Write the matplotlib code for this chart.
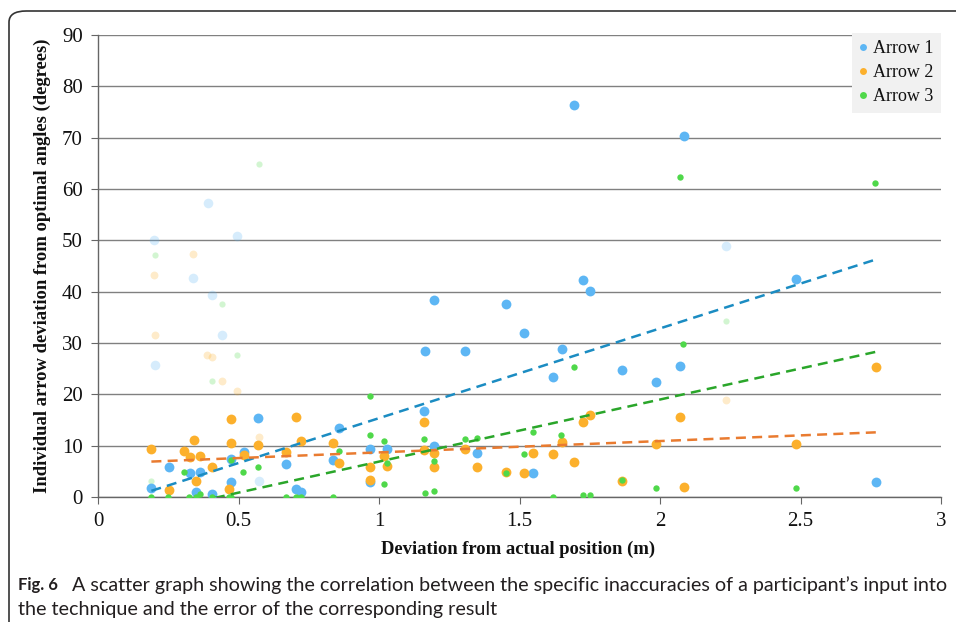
import numpy as np
import matplotlib
matplotlib.use("agg")
import matplotlib.pyplot as plt
from matplotlib.patches import FancyBboxPatch
from matplotlib.lines import Line2D

# Arrow 1 (blue)
a1_x = [1.693, 2.084, 2.483, 1.726, 1.751, 1.197, 1.452, 1.515, 1.163, 1.306,
        1.619, 1.650, 1.863, 1.985, 2.072, 2.769, 1.160, 1.197, 1.350, 1.549,
        0.967, 1.027, 0.967, 0.857, 0.835, 0.568, 0.519, 0.473, 0.669, 0.251,
        0.327, 0.363, 0.190, 0.347, 0.404, 0.473, 0.704, 0.722]
a1_y = [76.4, 70.4, 42.4, 42.3, 40.1, 38.3, 37.6, 31.9, 28.5, 28.5,
        23.4, 28.9, 24.8, 22.4, 25.5, 2.9, 16.7, 9.9, 8.5, 4.6,
        9.3, 9.3, 3.0, 13.4, 7.2, 15.3, 8.7, 7.4, 6.4, 5.8,
        4.6, 4.8, 1.7, 0.9, 0.5, 2.9, 1.5, 1.0]

# Arrow 2 (orange)
a2_x = [2.769, 2.483, 2.072, 2.084, 1.985, 1.863, 1.751, 1.726, 1.650, 1.619,
        1.694, 1.549, 1.515, 1.452, 1.350, 1.306, 1.160, 1.160, 1.197, 1.197,
        1.027, 1.018, 0.967, 0.967, 0.857, 0.835, 0.704, 0.722, 0.669, 0.568,
        0.519, 0.473, 0.473, 0.465, 0.404, 0.363, 0.341, 0.327, 0.307, 0.347,
        0.251, 0.190]
a2_y = [25.3, 10.4, 15.5, 1.9, 10.4, 3.1, 15.9, 14.6, 10.8, 8.3,
        6.9, 8.5, 4.7, 4.8, 5.9, 9.4, 14.7, 9.2, 8.6, 5.8,
        6.0, 7.9, 5.9, 3.3, 6.6, 10.6, 15.5, 11.0, 8.7, 10.1,
        8.2, 15.1, 10.5, 1.6, 5.8, 7.9, 11.2, 7.7, 9.0, 3.1,
        1.3, 9.4]

# Arrow 3 (green)
a3_x = [2.071, 2.766, 2.483, 2.083, 1.694, 1.649, 1.863, 1.985, 1.726, 1.751,
        1.619, 1.549, 1.515, 1.452, 1.306, 1.350, 1.160, 1.197, 1.197, 1.163,
        0.967, 0.967, 1.018, 1.030, 1.018, 0.857, 0.835, 0.473, 0.517, 0.568,
        0.307, 0.188, 0.250, 0.324, 0.347, 0.363, 0.404, 0.467, 0.473, 0.669,
        0.704, 0.722]
a3_y = [62.3, 61.1, 1.8, 29.9, 25.3, 12.1, 3.4, 1.8, 0.4, 0.4,
        0.0, 12.7, 8.3, 4.6, 11.3, 11.4, 11.3, 7.0, 1.1, 0.7,
        19.7, 12.1, 10.9, 6.6, 2.5, 9.0, 0.0, 7.3, 4.9, 5.8,
        4.9, 0.0, 0.0, 0.0, 0.0, 0.5, 0.0, 0.0, 0.0, 0.0,
        0.0, 0.0]

# faded points (partly hidden in the original)
f1_x = [0.392, 0.200, 0.494, 0.339, 0.406, 0.442, 0.204, 0.574, 2.235]
f1_y = [57.2, 50.1, 50.8, 42.6, 39.3, 31.6, 25.7, 3.1, 48.8]
f2_x = [0.338, 0.199, 0.203, 0.389, 0.405, 0.441, 0.494, 0.574, 2.235]
f2_y = [47.4, 43.2, 31.6, 27.7, 27.3, 22.6, 20.7, 11.6, 18.8]
f3_x = [0.574, 0.204, 0.441, 0.495, 0.404, 0.188, 2.235]
f3_y = [64.9, 47.2, 37.6, 27.7, 22.6, 3.1, 34.3]

# trend lines
trend_x = [0.19, 2.77]
trend1_y = [1.2, 46.3]
trend2_y = [6.9, 12.6]
trend3_y = [-2.9, 28.3]

labels = ["Arrow 1", "Arrow 2", "Arrow 3"]
c1, c2, c3 = "#5db6f4", "#fcb02c", "#4fd84a"
t1, t2, t3 = "#1b8cc2", "#e97b30", "#2aa62a"

serif = ["Liberation Serif", "DejaVu Serif"]

fig = plt.figure(figsize=(9.56, 6.22), dpi=100)
ax = fig.add_axes([98 / 956, 1 - 497 / 622, 843 / 956, 462 / 622])

ax.set_xlim(0, 3)
ax.set_ylim(0, 90)
ax.set_xticks(np.arange(0, 3.01, 0.5))
ax.set_xticklabels(["0", "0.5", "1", "1.5", "2", "2.5", "3"])
ax.set_yticks(np.arange(0, 91, 10))
ax.grid(axis="y", color="#808080", linewidth=1.0)
ax.set_axisbelow(True)
for s in ["top", "right"]:
    ax.spines[s].set_visible(False)
for s in ["left", "bottom"]:
    ax.spines[s].set_color("#666666")
    ax.spines[s].set_linewidth(1.0)
ax.tick_params(axis="both", direction="out", length=5, color="#666666",
               labelsize=15, pad=6)
ax.tick_params(axis="x", pad=6)
for lab in ax.get_xticklabels() + ax.get_yticklabels():
    lab.set_family(serif)
    lab.set_color("#111111")

fa = 0.25
ax.scatter(f1_x, f1_y, s=48, color=c1, alpha=fa, linewidths=0)
ax.scatter(f2_x, f2_y, s=32, color=c2, alpha=fa, linewidths=0)
ax.scatter(f3_x, f3_y, s=20, color=c3, alpha=fa, linewidths=0)

ax.scatter(a1_x, a1_y, s=50, color=c1, linewidths=0, zorder=3)
ax.scatter(a2_x, a2_y, s=50, color=c2, linewidths=0, zorder=3)
ax.scatter(a3_x, a3_y, s=21, color=c3, linewidths=0, zorder=4)

ax.plot(trend_x, trend1_y, color=t1, lw=1.8, dashes=(4, 2.5), zorder=5)
ax.plot(trend_x, trend2_y, color=t2, lw=1.8, dashes=(4, 2.5), zorder=5)
ax.plot(trend_x, trend3_y, color=t3, lw=1.8, dashes=(4, 2.5), zorder=5)

handles = [Line2D([], [], ls="", marker="o", ms=5, mec="none", color=c)
           for c in (c1, c2, c3)]
leg = ax.legend(handles, labels, loc="upper right", bbox_to_anchor=(1.0, 1.005),
                frameon=True, fancybox=False, facecolor="#f1f1f1",
                edgecolor="none", framealpha=1,
                prop={"family": serif, "size": 13},
                handlelength=0.5, handletextpad=0.3, borderpad=0.4,
                labelspacing=0.4, borderaxespad=0)
for t in leg.get_texts():
    t.set_color("#111111")

fig.text(42 / 956, 1 - 266 / 622,
         "Individual arrow deviation from optimal angles (degrees)",
         rotation=90, ha="center", va="center", family=serif,
         weight="bold", size=13.4, color="#111111")
fig.text(518 / 956, 1 - 549 / 622, "Deviation from actual position (m)",
         ha="center", va="center", family=serif, weight="bold", size=13.4,
         color="#111111")

# frame with rounded corner
frame = FancyBboxPatch((9 / 956, -0.1), 1.2, 1 - 11 / 622 + 0.1,
                       boxstyle="round,pad=0,rounding_size=0.018",
                       transform=fig.transFigure, fill=False,
                       edgecolor="#333333", linewidth=1.2, clip_on=False)
fig.patches.append(frame)

cap = ["Lato", "DejaVu Sans"]
fig.text(18 / 956, 1 - 585 / 622, "Fig. 6", ha="left", va="center",
         family=cap, weight="bold", size=12, color="#231f20")
line1 = fig.text(72 / 956, 1 - 585 / 622,
                 "A scatter graph showing the correlation between the specific "
                 "inaccuracies of a participant\u2019s input into",
                 ha="left", va="center", family=cap, size=12, color="#231f20")
line2 = fig.text(18 / 956, 1 - 609 / 622,
                 "the technique and the error of the corresponding result",
                 ha="left", va="center", family=cap, size=12, color="#231f20")

# fit caption width to the reference line length
r = fig.canvas.get_renderer()
w = line1.get_window_extent(r).width
size = 12 * (944 - 72) / w
line1.set_fontsize(size)
line2.set_fontsize(size)

fig.savefig("out.png", dpi=100)
